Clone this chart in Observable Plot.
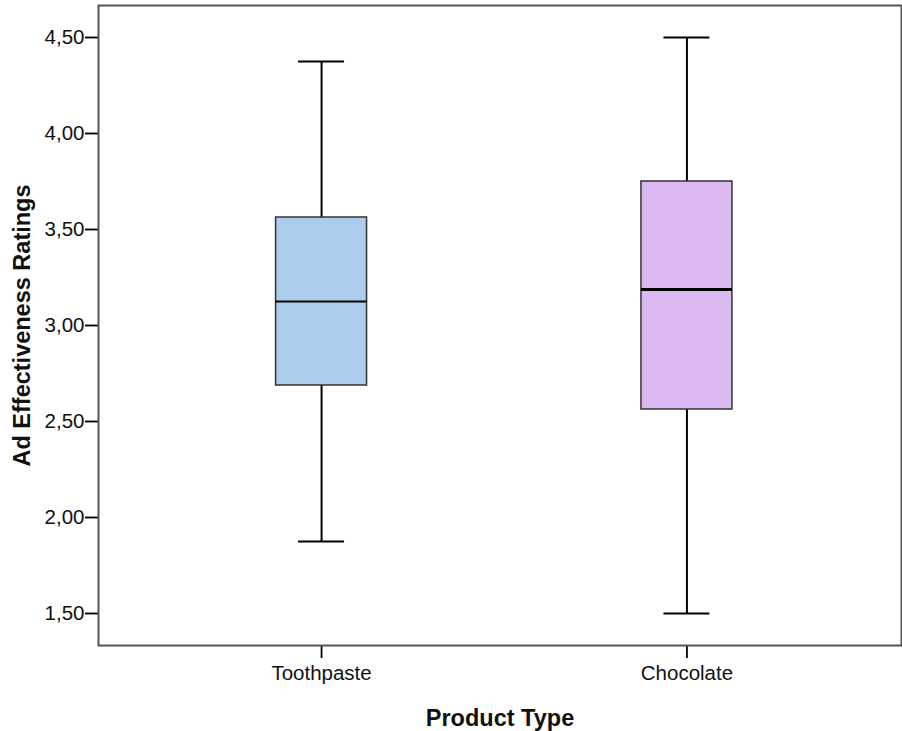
<!DOCTYPE html>
<html>
<head>
<meta charset="utf-8">
<script src="https://cdn.jsdelivr.net/npm/d3@7"></script>
<script src="https://cdn.jsdelivr.net/npm/@observablehq/plot@0.6"></script>
<style>
  html, body { margin: 0; padding: 0; background: #fff; }
  #chart svg { display: block; }
  #chart g[aria-label="y-axis label"] text,
  #chart g[aria-label="x-axis label"] text { font-size: 23.5px; font-weight: bold; }
  #chart g[aria-label="y-axis tick"] path,
  #chart g[aria-label="x-axis tick"] path,
  #chart g[aria-label="y-axis"] line,
  #chart g[aria-label="x-axis"] line { stroke: #000; stroke-width: 1.8px; stroke-opacity: 1; }
</style>
</head>
<body>
<div id="chart"></div>
<script>
// Box plot summary for each product type
const categories = ["Toothpaste", "Chocolate"];
const whiskerLow = [1.875, 1.5];
const q1 = [2.6875, 2.5625];
const median = [3.125, 3.1875];
const q3 = [3.5625, 3.75];
const whiskerHigh = [4.375, 4.5];
const yTicks = [1.5, 2, 2.5, 3, 3.5, 4, 4.5];
const xTitle = "Product Type";
const yTitle = "Ad Effectiveness Ratings";

const boxFill = {Toothpaste: "#adcdee", Chocolate: "#dbb9f2"};
const medianWidth = {Toothpaste: 2, Chocolate: 3};

const rows = categories.map((c, i) => ({
  product: c,
  low: whiskerLow[i],
  q1: q1[i],
  median: median[i],
  q3: q3[i],
  high: whiskerHigh[i]
}));

const commaFormat = d3.formatLocale({decimal: ",", thousands: ".", grouping: [3], currency: ["", ""]}).format(".2f");

const chart = Plot.plot({
  width: 902,
  height: 731,
  marginTop: 5,
  marginBottom: 86,
  marginLeft: 98,
  marginRight: 1,
  style: {fontFamily: "'Liberation Sans', Arial, sans-serif", fontSize: "20.5px", color: "#111", background: "#fff"},
  x: {
    domain: categories,
    range: [107.5, 900],
    paddingInner: 0.751,
    paddingOuter: 0.46,
    round: false,
    label: xTitle,
    labelAnchor: "center",
    labelArrow: "none",
    labelOffset: 80,
    tickSize: 13,
    tickPadding: 7
  },
  y: {
    domain: [1.5 - 1 / 6, 4.5 + 1 / 6],
    ticks: yTicks,
    tickFormat: commaFormat,
    label: yTitle,
    labelAnchor: "center",
    labelArrow: "none",
    labelOffset: 85,
    tickSize: 13,
    tickPadding: 1
  },
  marks: [
    // whiskers
    Plot.ruleX(rows, {x: "product", y1: "q3", y2: "high", stroke: "#000", strokeWidth: 2}),
    Plot.ruleX(rows, {x: "product", y1: "low", y2: "q1", stroke: "#000", strokeWidth: 2}),
    // whisker caps
    Plot.tickY(rows, {x: "product", y: "high", stroke: "#000", strokeWidth: 2, insetLeft: 22.5, insetRight: 22.5}),
    Plot.tickY(rows, {x: "product", y: "low", stroke: "#000", strokeWidth: 2, insetLeft: 22.5, insetRight: 22.5}),
    // boxes
    Plot.barY(rows, {x: "product", y1: "q1", y2: "q3", fill: d => boxFill[d.product], stroke: "#333", strokeWidth: 1.5, inset: 0}),
    // medians
    Plot.tickY(rows, {x: "product", y: "median", stroke: "#000", strokeWidth: d => medianWidth[d.product]}),
    Plot.frame({stroke: "#555", strokeWidth: 2})
  ]
});

// keep the axis titles plain, without direction arrows
chart.querySelectorAll('g[aria-label="y-axis label"] text').forEach(t => { t.textContent = yTitle; });
chart.querySelectorAll('g[aria-label="x-axis label"] text').forEach(t => { t.textContent = xTitle; });

document.getElementById("chart").appendChild(chart);
</script>
</body>
</html>
